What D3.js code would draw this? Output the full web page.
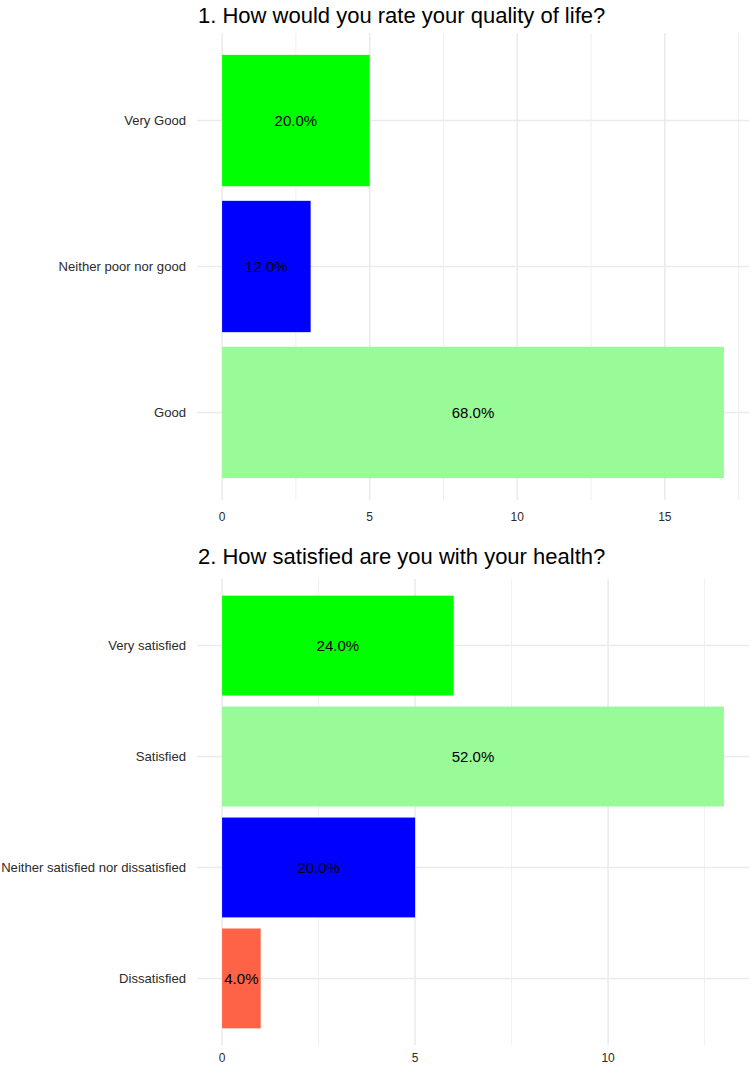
<!DOCTYPE html>
<html>
<head>
<meta charset="utf-8">
<script src="https://cdn.jsdelivr.net/npm/d3@7"></script>
<style>
  body { margin: 0; background: #fff; }
  svg { display: block; font-family: "Liberation Sans", Arial, sans-serif; }
</style>
</head>
<body>
<div class="chart"></div>
<script>
// survey answers, counts per category (drawn top to bottom)
const q1Title = "1. How would you rate your quality of life?"
const q1Cats = ["Very Good", "Neither poor nor good", "Good"]
const q1Counts = [5, 3, 17]
const q1Pct = ["20.0%", "12.0%", "68.0%"]
const q1Colors = ["#00FF00", "#0000FF", "#98FB98"]
const q1Ticks = [0, 5, 10, 15]

const q2Title = "2. How satisfied are you with your health?"
const q2Cats = ["Very satisfied", "Satisfied", "Neither satisfied nor dissatisfied", "Dissatisfied"]
const q2Counts = [6, 13, 5, 1]
const q2Pct = ["24.0%", "52.0%", "20.0%", "4.0%"]
const q2Colors = ["#00FF00", "#98FB98", "#0000FF", "#FF6347"]
const q2Ticks = [0, 5, 10]

const width = 749
const height = 1067

const svg = d3.select('.chart').append('svg')
    .attr("width", width)
    .attr("height", height)

// panel boxes (plot area only)
const panels = [
    {title: q1Title, cats: q1Cats, counts: q1Counts, pct: q1Pct, colors: q1Colors, ticks: q1Ticks,
     top: 33, bottom: 500, titleY: 23, tickY: 520.5},
    {title: q2Title, cats: q2Cats, counts: q2Counts, pct: q2Pct, colors: q2Colors, ticks: q2Ticks,
     top: 579, bottom: 1045, titleY: 564, tickY: 1061.5}
]

const left = 197, right = 749

panels.forEach(p => drawPanel(p))

function drawPanel(p) {
    const max = d3.max(p.counts)
    const pad = max * 0.05
    const x = d3.scaleLinear().domain([-pad, max + pad]).range([left, right])

    // discrete axis with ggplot's 0.6 expansion
    const n = p.cats.length
    const step = (p.bottom - p.top) / (n - 1 + 1.2)
    const y = d3.scaleBand()
        .domain(p.cats)
        .range([p.top + 0.1 * step, p.bottom - 0.1 * step])
        .paddingInner(0.1)
        .paddingOuter(0.05)
    // centre of each category
    const yc = c => y(c) + y.bandwidth() / 2

    const g = svg.append("g")

    // minor grid
    const minor = d3.range(2.5, max + pad, 5)
    g.selectAll(".minor")
        .data(minor)
        .join("line")
        .attr("x1", d => x(d)).attr("x2", d => x(d))
        .attr("y1", p.top).attr("y2", p.bottom)
        .attr("stroke", "#EBEBEB")
        .attr("stroke-width", 0.8)

    // major grid
    g.selectAll(".majorx")
        .data(p.ticks)
        .join("line")
        .attr("x1", d => x(d)).attr("x2", d => x(d))
        .attr("y1", p.top).attr("y2", p.bottom)
        .attr("stroke", "#EBEBEB")
        .attr("stroke-width", 1.6)

    g.selectAll(".majory")
        .data(p.cats)
        .join("line")
        .attr("x1", left).attr("x2", right)
        .attr("y1", d => yc(d)).attr("y2", d => yc(d))
        .attr("stroke", "#EBEBEB")
        .attr("stroke-width", 1.6)

    // bars
    g.selectAll("rect")
        .data(p.cats)
        .join("rect")
        .attr("x", x(0))
        .attr("y", d => y(d))
        .attr("width", (d, i) => x(p.counts[i]) - x(0))
        .attr("height", y.bandwidth())
        .attr("fill", (d, i) => p.colors[i])

    // percentage labels in the middle of each bar
    g.selectAll(".pct")
        .data(p.cats)
        .join("text")
        .attr("x", (d, i) => x(p.counts[i] / 2))
        .attr("y", d => yc(d))
        .attr("dy", "0.36em")
        .attr("text-anchor", "middle")
        .attr("font-size", 15)
        .attr("fill", "#000")
        .text((d, i) => p.pct[i])

    // category labels
    g.selectAll(".cat")
        .data(p.cats)
        .join("text")
        .attr("x", left - 11)
        .attr("y", d => yc(d))
        .attr("dy", "0.36em")
        .attr("text-anchor", "end")
        .attr("font-size", 13.1)
        .attr("fill", "#2b2b2b")
        .text(d => d)

    // x tick labels
    g.selectAll(".tick")
        .data(p.ticks)
        .join("text")
        .attr("x", d => x(d))
        .attr("y", p.tickY)
        .attr("text-anchor", "middle")
        .attr("font-size", 12)
        .attr("fill", "#2b2b2b")
        .text(d => d)

    svg.append("text")
        .attr("x", left + 1)
        .attr("y", p.titleY)
        .attr("font-size", 22)
        .attr("fill", "#000")
        .text(p.title)
}
</script>
</body>
</html>
